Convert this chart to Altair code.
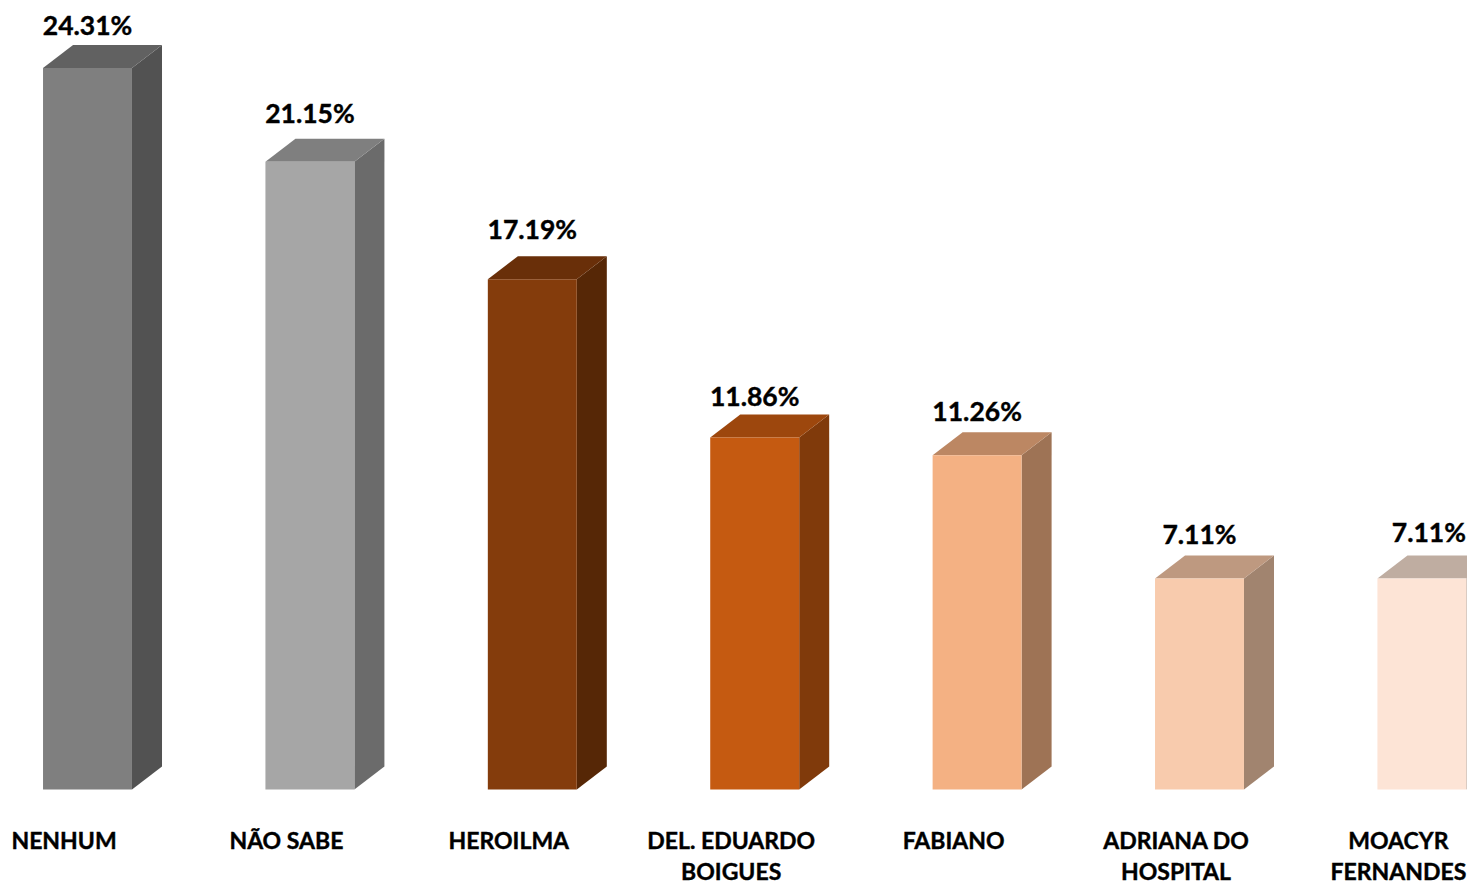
import altair as alt
import pandas as pd

categories = ["NENHUM", "NÃO SABE", "HEROILMA", "DEL. EDUARDO\nBOIGUES", "FABIANO", "ADRIANA DO\nHOSPITAL", "MOACYR\nFERNANDES"]
values = [24.31, 21.15, 17.19, 11.86, 11.26, 7.11, 7.11]
labels = ["24.31%", "21.15%", "17.19%", "11.86%", "11.26%", "7.11%", "7.11%"]
front = ["#7F7F7F", "#A6A6A6", "#843C0C", "#C55A11", "#F4B183", "#F8CBAD", "#FDE4D6"]
side = ["#525252", "#6B6B6B", "#562706", "#803A0B", "#9E7355", "#A1846F", "#A3948A"]
top = ["#616161", "#7F7F7F", "#692F09", "#9D470D", "#BC8763", "#BE9980", "#BFADA1"]
label_dx = [0, 0, 0, 0, 0, 0, 7]
label_dy = [41, 47, 48, 39, 42, 42, 44]

W, H = 1459, 877
x_scale = alt.Scale(domain=[-0.3575, 6.2028], nice=False, zero=False)
y_scale = alt.Scale(domain=[-3.22, 26.33], nice=False, zero=False)
HW, DX, DY = 0.2, 0.135, 0.775

X = alt.X("x:Q", scale=x_scale, axis=None)
Y = alt.Y("y:Q", scale=y_scale, axis=None)

layers = []


def face(points, colour):
    df = pd.DataFrame(points, columns=["x", "y", "y2"])
    return alt.Chart(df).mark_area(clip=True, color=colour, orient="vertical").encode(
        x=X, y=Y, y2="y2:Q")


for i, v in enumerate(values):
    l, r = i - HW, i + HW
    layers.append(face([(r, 0, v), (r + DX, DY, v + DY)], side[i]))
    layers.append(face([(l, v, v), (l + DX, v, v + DY), (r, v, v + DY), (r + DX, v + DY, v + DY)], top[i]))
    layers.append(face([(l, 0, v), (r, 0, v)], front[i]))

font = "Lato"
for i, v in enumerate(values):
    layers.append(alt.Chart(pd.DataFrame([dict(x=i, y=v, t=labels[i])])).mark_text(
        font=font, fontWeight="bold", fontSize=26.5, color="#000000",
        stroke="#000000", strokeWidth=0.4,
        baseline="middle", align="center", dx=label_dx[i], dy=-label_dy[i]
    ).encode(x=X, y=Y, text="t:N"))

cat_df = pd.DataFrame(dict(x=list(range(len(categories))), y=[0] * len(categories), t=categories))
layers.append(alt.Chart(cat_df).mark_text(
    font=font, fontWeight="bold", fontSize=23, color="#000000",
    stroke="#000000", strokeWidth=0.4,
    baseline="top", align="center", dx=-23.5, dy=41.5, lineBreak="\n", lineHeight=31
).encode(x=X, y=Y, text="t:N"))

chart = alt.layer(*layers).properties(
    width=W, height=H, padding=0, autosize=alt.AutoSizeParams(type="none"), background="white"
).configure_view(stroke=None)

chart.save("out.html", embed_options={"renderer": "svg", "actions": False})
